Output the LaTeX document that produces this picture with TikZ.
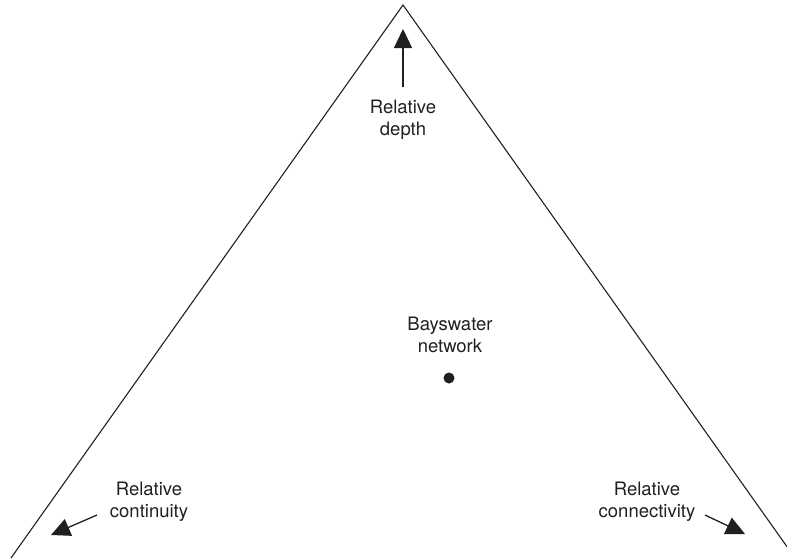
\documentclass[tikz,border=0pt]{standalone}
\usepackage{fontspec}
\setmainfont{TeX Gyre Heros}
\usetikzlibrary{arrows.meta}

\definecolor{ink}{HTML}{231F20}

\begin{document}
\begin{tikzpicture}[x=1pt,y=-1pt,
    label text/.style={align=center,text=ink,font=\fontsize{18.5}{21.5}\selectfont},
    pointer/.style={draw=ink,line width=1.3pt,-{Triangle[length=19pt,width=18pt]}}]

        \useasboundingbox (0,0) rectangle (787,558);
        \clip (0,0) rectangle (787,558);

        \coordinate (apex)  at (403,5);
        \coordinate (left)  at (11,558);
        \coordinate (right) at (795,558);

        \draw[ink,line width=1.1pt] (left) -- (apex) -- (right);

        \begin{scope}[every node/.style={label text}]
          \node (depth)        at (403,120) {Relative\\depth};
          \node (bayswater)    at (450,335) {Bayswater\\network};
          \node (continuity)   at (149,502) {Relative\\continuity};
          \node (connectivity) at (647,502) {Relative\\connectivity};
        \end{scope}

        \node[circle,fill=ink,inner sep=0pt,minimum size=11pt] (site) at (449,378) {};

        \coordinate (d1) at (403,87);   \coordinate (d2) at (403,29);
        \coordinate (c1) at (97,515);   \coordinate (c2) at (51,535);
        \coordinate (n1) at (705,515);  \coordinate (n2) at (745,534);

        \path (d1) edge[pointer] (d2);
        \path (c1) edge[pointer] (c2);
        \path (n1) edge[pointer] (n2);

      \end{tikzpicture}
\end{document}
